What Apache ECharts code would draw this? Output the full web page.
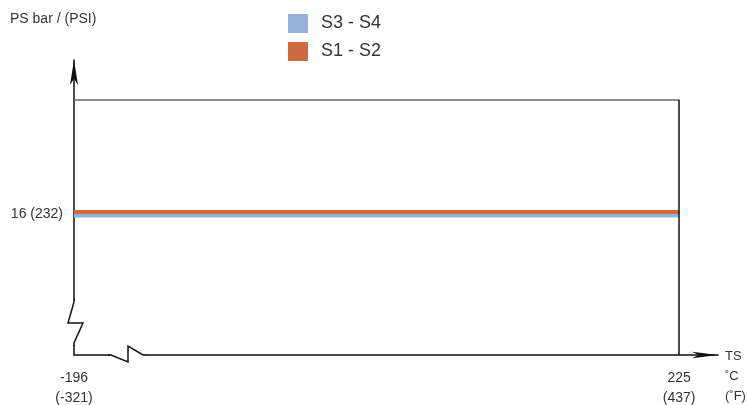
<!DOCTYPE html>
<html>
<head>
<meta charset="utf-8">
<script src="https://cdn.jsdelivr.net/npm/echarts@6/dist/echarts.min.js"></script>
<style>
  html, body { margin: 0; padding: 0; background: #fff; }
  #chart { width: 747px; height: 405px; }
</style>
</head>
<body>
<div id="chart"></div>
<script>
// series values (pressure, bar) over the temperature range (°C)
var seriesNames = ['S3 - S4', 'S1 - S2'];
var seriesColors = ['#94b3d9', '#ce6a40'];
var tempRange = [-196, 225];
var s3s4Values = [16, 16];
var s1s2Values = [16, 16];

// tick labels
var xTickValues = [-196, 225];
var xTickLabels = ['-196\n(-321)', '225\n(437)'];
var yTickValues = [16];
var yTickLabels = ['16 (232)'];

var FONT = "'Liberation Sans', Arial, Helvetica, sans-serif";
var TEXT = '#333';

var xMin = -196, xMax = 252;
var yMin = 0, yMax = 33.5, yFrameTop = 29;

function pairs(xs, ys) {
    var out = [];
    for (let i = 0; i < xs.length; i++) out.push([xs[i], ys[i]]);
    return out;
}

var chart = echarts.init(document.getElementById('chart'), null, { renderer: 'canvas' });

var axisLineStyle = { color: '#111', width: 1.5 };

var option = {
    animation: false,
    title: {
        text: 'PS bar / (PSI)',
        left: 10,
        top: 12,
        padding: 0,
        textStyle: { fontFamily: FONT, fontSize: 14, fontWeight: 'normal', color: TEXT }
    },
    legend: {
        data: seriesNames,
        orient: 'vertical',
        left: 288,
        top: 14,
        padding: 0,
        itemWidth: 20,
        itemHeight: 19,
        itemGap: 9,
        icon: 'rect',
        textStyle: { fontFamily: FONT, fontSize: 18, color: TEXT, padding: [0, 0, 0, 8] }
    },
    grid: { left: 74, right: 29, top: 60, bottom: 50, containLabel: false, outerBoundsMode: 'none' },
    xAxis: {
        type: 'value',
        min: xMin,
        max: xMax,
        // empty first line pushes the unit block down so "TS" sits on the axis
        name: '{e| }\nTS\n\u02DAC\n(\u02DAF)',
        nameLocation: 'end',
        nameGap: 7,
        nameMoveOverlap: false,
        nameTextStyle: {
            fontFamily: FONT, fontSize: 13, color: TEXT, lineHeight: 20,
            rich: { e: { lineHeight: 42, fontSize: 13 } }
        },
        axisLine: { show: true, onZero: false, lineStyle: axisLineStyle, symbol: ['none', 'arrow'], symbolSize: [5, 26] },
        axisTick: { show: false },
        splitLine: { show: false },
        axisLabel: {
            customValues: xTickValues,
            margin: 13,
            fontFamily: FONT, fontSize: 14, color: TEXT, lineHeight: 20,
            formatter: function (v) {
                var i = xTickValues.indexOf(v);
                return i >= 0 ? xTickLabels[i] : '';
            }
        }
    },
    yAxis: [{
        type: 'value',
        min: yMin,
        max: yMax,
        axisLine: { show: true, onZero: false, lineStyle: axisLineStyle, symbol: ['none', 'arrow'], symbolSize: [6, 25] },
        axisTick: { show: false },
        splitLine: { show: false },
        axisLabel: {
            customValues: yTickValues,
            margin: 11,
            fontFamily: FONT, fontSize: 14, color: TEXT,
            formatter: function (v) {
                var i = yTickValues.indexOf(v);
                return i >= 0 ? yTickLabels[i] : '';
            }
        }
    }, {
        // blue band sits just under the 16 bar mark
        type: 'value', show: false, min: yMin + 0.17, max: yMax + 0.17
    }, {
        // orange band sits just above it
        type: 'value', show: false, min: yMin - 0.23, max: yMax - 0.23
    }],
    series: [{
        name: seriesNames[0],
        type: 'line',
        yAxisIndex: 1,
        data: pairs(tempRange, s3s4Values),
        showSymbol: false,
        color: seriesColors[0],
        lineStyle: { width: 4, color: seriesColors[0], cap: 'butt' },
        z: 3
    }, {
        name: seriesNames[1],
        type: 'line',
        yAxisIndex: 2,
        data: pairs(tempRange, s1s2Values),
        showSymbol: false,
        color: seriesColors[1],
        lineStyle: { width: 4, color: seriesColors[1], cap: 'butt' },
        z: 4
    }, {
        name: 'frame',
        type: 'line',
        yAxisIndex: 0,
        data: [],
        silent: true,
        markLine: {
            silent: true,
            symbol: 'none',
            label: { show: false },
            data: [
                [{ coord: [tempRange[0], yFrameTop], lineStyle: { color: '#666', width: 1.5, type: 'solid' } },
                 { coord: [tempRange[1], yFrameTop] }],
                [{ coord: [tempRange[1], yMin], lineStyle: { color: '#111', width: 1.5, type: 'solid' } },
                 { coord: [tempRange[1], yFrameTop] }]
            ]
        }
    }]
};

chart.setOption(option);

// axis break marks, drawn relative to the axis origin
var o = chart.convertToPixel({ xAxisIndex: 0, yAxisIndex: 0 }, [xMin, yMin]);
var ox = o[0], oy = o[1];
chart.setOption({
    graphic: [
        { type: 'rect', z: 100, shape: { x: ox - 3, y: oy - 55, width: 6, height: 45 }, style: { fill: '#fff' } },
        { type: 'rect', z: 100, shape: { x: ox + 36, y: oy - 3, width: 35, height: 6 }, style: { fill: '#fff' } },
        {
            type: 'polyline', z: 101,
            shape: { points: [[ox, oy - 56], [ox, oy - 53], [ox - 6, oy - 32], [ox + 9, oy - 32], [ox, oy - 12], [ox, oy - 9]] },
            style: { stroke: '#111', lineWidth: 1.5, fill: null, lineJoin: 'miter' }
        },
        {
            type: 'polyline', z: 101,
            shape: { points: [[ox + 34, oy], [ox + 37, oy], [ox + 54, oy + 7], [ox + 54, oy - 9], [ox + 69, oy], [ox + 72, oy]] },
            style: { stroke: '#111', lineWidth: 1.5, fill: null, lineJoin: 'miter' }
        }
    ]
});
</script>
</body>
</html>
